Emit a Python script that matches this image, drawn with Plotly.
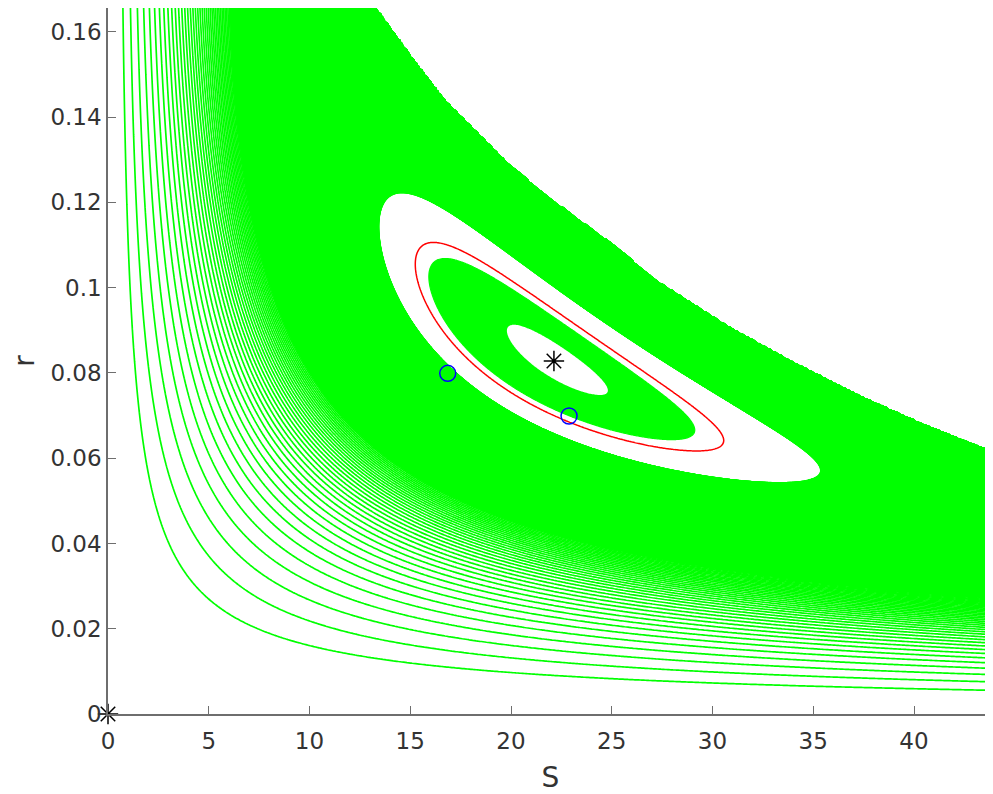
import numpy as np
import plotly.graph_objects as go

# ---- values ----
eq_point = [22.13, 0.0828]
origin_point = [0.0, 0.0]
circle_S = [16.86, 22.88]
circle_r = [0.0799, 0.0699]

# points lying on the drawn curves / band edges
red_S = [15.24, 16.14, 21.11, 26.07, 29.38, 30.50, 28.55, 26.07, 22.84, 19.45, 16.97, 15.65, 15.48]
red_r = [0.1065, 0.1104, 0.0979, 0.0831, 0.0713, 0.0639, 0.0619, 0.0647, 0.0698, 0.0760, 0.0878, 0.0979, 0.1104]
inner_S = [19.62, 24.83]
inner_r = [0.0901, 0.0756]
ring_S = [16.23, 29.20, 22.84]
ring_r = [0.1053, 0.0655, 0.0709]
band_S = [12.84, 15.82, 19.12, 22.43, 24.42, 30.70, 34.46, 23.09, 17.80, 16.16, 14.49]
band_r = [0.1237, 0.1190, 0.1081, 0.0988, 0.0941, 0.0729, 0.0565, 0.0604, 0.0729, 0.0799, 0.0940]
outer_S = [0.84, 1.42, 1.75, 2.08, 3.94, 8.7, 22.0, 44.1]
outer_r = [0.1656, 0.0971, 0.0800, 0.0666, 0.0385, 0.0200, 0.00915, 0.0056]
sparse_r_at_S22 = [0.00915, 0.01227, 0.01502, 0.01736, 0.01931, 0.02128, 0.02283, 0.02424, 0.02557, 0.02674]
top_S = [13.25, 14.99, 16.64, 18.30, 19.95, 22.43, 24.91, 27.39, 30.70, 34.01, 37.32, 40.63, 43.92]
top_r = [0.1656, 0.1542, 0.1441, 0.1362, 0.1284, 0.1190, 0.1104, 0.1009, 0.0909, 0.0823, 0.0744, 0.0674, 0.0612]

x_ticks = [0, 5, 10, 15, 20, 25, 30, 35, 40]
x_ticktext = ["0", "5", "10", "15", "20", "25", "30", "35", "40"]
y_ticks = [0, 0.02, 0.04, 0.06, 0.08, 0.1, 0.12, 0.14, 0.16]
y_ticktext = ["0", "0.02", "0.04", "0.06", "0.08", "0.1", "0.12", "0.14", "0.16"]
level_power = 1.3      # outer level lines are evenly spaced in (H - H*)^(-1.3)
inner_scale = 1.2      # inner white patch size adjustment
solid_upper = 0.45     # dense (solid-looking) part of the outer level family

# ---- fit invariant H = aS + br + S r + w3 lnS + w4 ln r to the read curves ----
curves = [(red_S, red_r), (inner_S, inner_r), (ring_S, ring_r), (band_S, band_r), (outer_S, outer_r)]
nc = len(curves)
Se, re_ = eq_point
p = np.array([-0.0058, 7.55, -1.711, -2.467])
PX_S, PX_R = 20.15, 4262.0
for it in range(6):
    rows, rhs, wts = [], [], []
    for i, (cs, cr) in enumerate(curves):
        for s, r in zip(cs, cr):
            row = np.zeros(4 + nc)
            row[:4] = [s, r, np.log(s), np.log(r)]
            row[4 + i] = -1
            gS = p[0] + p[2] / s + r
            gR = p[1] + p[3] / r + s
            rows.append(row); rhs.append(-s * r); wts.append(1 / np.hypot(gS / PX_S, gR / PX_R))
    row = np.zeros(4 + nc); row[0] = 1; row[2] = 1 / Se
    rows.append(row); rhs.append(-re_); wts.append(3 / (PX_S * 2.7e-5))
    row = np.zeros(4 + nc); row[1] = 1; row[3] = 1 / re_
    rows.append(row); rhs.append(-Se); wts.append(3 / (PX_R * 2.7e-5))
    A = np.array(rows); b = np.array(rhs); w = np.array(wts)
    sol = np.linalg.lstsq(A * w[:, None], b * w, rcond=None)[0]
    p = sol[:4]

def H(s, r):
    return p[0] * s + p[1] * r + s * r + p[2] * np.log(s) + p[3] * np.log(r)

Hs = H(Se, re_)
dh_red, dh_inner, dh_ring, dh_band, dh_outer = sol[4:] - Hs
tr = (H(22.0, np.array(sparse_r_at_S22)) - Hs) ** (-level_power)
step, first = np.polyfit(np.arange(len(tr)), tr, 1)

# ---- grids ----
Sg = np.linspace(0.01, 44.5, 520)
rg = np.linspace(0.0003, 0.168, 520)
SS, RR = np.meshgrid(Sg, rg)
D = np.maximum(H(SS, RR) - Hs, 1e-9)
rb = np.interp(SS, top_S, top_r, left=1.0, right=top_r[-1])
cut = (RR > rb) & (SS > top_S[0])
Z1 = np.where(cut, -1.0, D ** (-level_power))
Zf = np.where(cut, 1e3, D)

Si = np.linspace(13, 34, 380)
ri = np.linspace(0.05, 0.125, 380)
SI, RI = np.meshgrid(Si, ri)
D2 = H(SI, RI) - Hs

# inner white patch: level set around the fitted minimum, re-centred on the marked equilibrium
Sm = np.linspace(18, 26, 400)
rm = np.linspace(0.074, 0.092, 400)
SM, RM = np.meshgrid(Sm, rm)
HM = H(SM, RM)
k0 = np.unravel_index(np.argmin(HM), HM.shape)
dS, dR = Se - SM[k0], re_ - RM[k0]
D3 = H(SI - dS, RI - dR) - HM[k0]
dh_hole = (dh_inner + Hs - HM[k0]) * inner_scale

G = "#00ff00"
green = [[0, G], [1, G]]
fig = go.Figure()
# constraint contours shade the excluded region, so "][" shades the interval itself
fig.add_trace(go.Contour(x=Sg, y=rg, z=Zf,
    contours=dict(type="constraint", operation="][", value=[dh_band * 1.03, solid_upper]),
    fillcolor=G, line=dict(width=0, color=G), showscale=False, hoverinfo="skip"))
fig.add_trace(go.Contour(x=Sg, y=rg, z=Z1, autocontour=False,
    contours=dict(coloring="lines", start=first, end=dh_band ** (-level_power), size=step),
    line=dict(width=1.7, smoothing=0), colorscale=green, showscale=False, hoverinfo="skip"))
fig.add_trace(go.Contour(x=Si, y=ri, z=D2,
    contours=dict(type="constraint", operation="][", value=[-1.0, dh_ring]),
    fillcolor=G, line=dict(width=1.2, color=G), showscale=False, hoverinfo="skip"))
fig.add_trace(go.Contour(x=Si, y=ri, z=D3,
    contours=dict(type="constraint", operation="][", value=[-1.0, dh_hole]),
    fillcolor="white", line=dict(width=0, color="white"), showscale=False, hoverinfo="skip"))
fig.add_trace(go.Contour(x=Si, y=ri, z=D2, autocontour=False,
    contours=dict(coloring="lines", start=dh_red, end=dh_red + 0.5, size=1.0),
    line=dict(width=1.5, smoothing=0), colorscale=[[0, "#ff0000"], [1, "#ff0000"]], showscale=False, hoverinfo="skip"))
fig.add_trace(go.Scatter(x=circle_S, y=circle_r, mode="markers",
    marker=dict(symbol="circle-open", size=16, color="#0000ff", line=dict(width=1.5, color="#0000ff")), hoverinfo="skip"))
fig.add_trace(go.Scatter(x=[eq_point[0], origin_point[0]], y=[eq_point[1], origin_point[1]], mode="markers",
    marker=dict(symbol="asterisk-open", size=17, color="black", line=dict(width=1.5, color="black")),
    cliponaxis=False, hoverinfo="skip"))

font = "DejaVu Sans"
fig.update_layout(width=985, height=786, margin=dict(l=100, r=0, t=0, b=80),
    plot_bgcolor="white", paper_bgcolor="white", showlegend=False)
ax = dict(showline=True, linecolor="#6e6e6e", linewidth=1.6, ticks="inside", ticklen=8,
          tickcolor="#6e6e6e", showgrid=False, zeroline=False, automargin=False,
          tickfont=dict(family=font, size=23, color="#333333"))
fig.update_xaxes(range=[0, 43.92], tickvals=x_ticks, ticktext=x_ticktext, ticklabelstandoff=6,
                 title=dict(text="S", standoff=14, font=dict(family=font, size=28, color="#333333")), **ax)
fig.update_yaxes(range=[0, 0.1656], tickvals=y_ticks, ticktext=y_ticktext, ticklabelstandoff=0,
                 title=dict(text="r", standoff=14, font=dict(family=font, size=28, color="#333333")), **ax)
fig.write_html("out.html")
